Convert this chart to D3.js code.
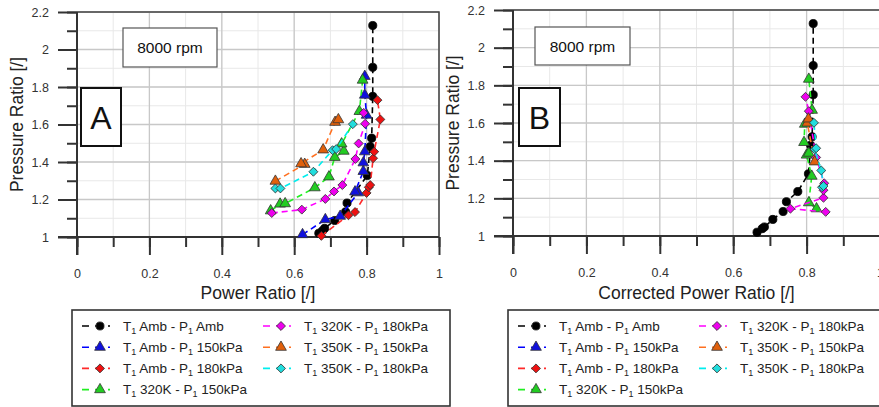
<!DOCTYPE html>
<html lang="en">
<head>
<meta charset="UTF-8">
<title>Pressure ratio vs power ratio, 8000 rpm</title>
<script src="https://d3js.org/d3.v7.min.js"></script>
<style>
  body { margin: 0; background: #fff; }
  svg { font-family: "Liberation Sans", Arial, sans-serif; }
</style>
</head>
<body>
<svg id="chart"></svg>
<script>
const width = 879, height = 407;

// ticks
const xTicks = [0, 0.2, 0.4, 0.6, 0.8, 1];
const yTicks = [1, 1.2, 1.4, 1.6, 1.8, 2, 2.2];
const xMinor = d3.range(0, 1.01, 0.1);
const yMinor = d3.range(1, 2.21, 0.1);

// legend text
const tempLabels  = ["Amb", "Amb", "Amb", "320K", "320K", "350K", "350K"];
const pressLabels = ["Amb", "150kPa", "180kPa", "150kPa", "180kPa", "150kPa", "180kPa"];

// panel A: power ratio / pressure ratio
const ampAmbA  = [[0.668,1.02],[0.678,1.033],[0.684,1.046],[0.712,1.088],[0.742,1.134],[0.746,1.181],[0.802,1.328],[0.81,1.482],[0.814,1.527],[0.817,1.75],[0.817,1.905],[0.817,2.128]];
const amb150A  = [[0.623,1.013],[0.686,1.093],[0.727,1.111],[0.768,1.241],[0.777,1.236],[0.791,1.35],[0.791,1.396],[0.795,1.455],[0.8,1.65],[0.795,1.757],[0.795,1.857]];
const amb180A  = [[0.675,1.006],[0.75,1.116],[0.768,1.133],[0.8,1.235],[0.806,1.265],[0.81,1.277],[0.818,1.42],[0.821,1.455],[0.838,1.627],[0.83,1.73]];
const k320p150A = [[0.535,1.14],[0.561,1.176],[0.575,1.178],[0.657,1.263],[0.696,1.321],[0.712,1.425],[0.737,1.458],[0.731,1.497],[0.78,1.67],[0.789,1.837]];
const k320p180A = [[0.538,1.128],[0.621,1.146],[0.686,1.203],[0.71,1.243],[0.733,1.277],[0.769,1.416],[0.778,1.499],[0.796,1.604],[0.792,1.662]];
const k350p150A = [[0.548,1.298],[0.619,1.391],[0.629,1.388],[0.68,1.465],[0.713,1.612],[0.722,1.626]];
const k350p180A = [[0.548,1.259],[0.562,1.259],[0.653,1.348],[0.706,1.463],[0.716,1.469],[0.762,1.602]];

// panel B: corrected power ratio / pressure ratio
const ampAmbB  = [[0.665,1.02],[0.679,1.039],[0.685,1.048],[0.708,1.088],[0.736,1.13],[0.745,1.182],[0.776,1.236],[0.805,1.33],[0.811,1.482],[0.815,1.527],[0.818,1.75],[0.818,1.905],[0.818,2.128]];
const amb150B  = [];
const amb180B  = [];
const k320p150B = [[0.827,1.145],[0.806,1.177],[0.814,1.318],[0.8,1.43],[0.806,1.44],[0.793,1.497],[0.795,1.594],[0.815,1.668],[0.806,1.833]];
const k320p180B = [[0.852,1.128],[0.756,1.145],[0.846,1.203],[0.846,1.243],[0.848,1.28],[0.826,1.417],[0.806,1.663],[0.797,1.739]];
const k350p150B = [[0.822,1.394],[0.802,1.6],[0.805,1.622]];
const k350p180B = [[0.842,1.259],[0.846,1.265],[0.84,1.348],[0.822,1.46],[0.826,1.466],[0.82,1.601]];

const lineColors = ["#000000", "#0000ff", "#ff2a2a", "#22ee22", "#ff00ff", "#ff7020", "#00eeee"];
const fillColors = ["#000000", "#1010dd", "#ee1111", "#22cc22", "#ee00ee", "#e0600c", "#22dddd"];
const shapes = ["circle", "triangle", "diamond", "triangle", "diamond", "triangle", "diamond"];

const panels = [
  { x0: 77, x1: 439, y0: 237, y1: 12, label: "A", xTitle: "Power Ratio [/]",
    series: [ampAmbA, amb150A, amb180A, k320p150A, k320p180A, k350p150A, k350p180A],
    rpmBox: [123, 28, 94, 39], letterBox: [81, 88, 40, 58], legendX: 72 },
  { x0: 513, x1: 880, y0: 236, y1: 10, label: "B", xTitle: "Corrected Power Ratio [/]",
    series: [ampAmbB, amb150B, amb180B, k320p150B, k320p180B, k350p150B, k350p180B],
    rpmBox: [535, 27, 95, 38], letterBox: [519, 88, 41, 58], legendX: 508 }
];

const svg = d3.select("#chart")
  .attr("width", width)
  .attr("height", height)
  .attr("viewBox", [0, 0, width, height]);

function marker(shape) {
  if (shape === "circle") return d3.symbol(d3.symbolCircle, 52)();
  if (shape === "triangle") return d3.symbol(d3.symbolTriangle, 50)();
  return d3.symbol(d3.symbolSquare, 40)();
}
const fmt = d => String(+d.toFixed(1));

panels.forEach(p => {
  const x = d3.scaleLinear().domain([0, 1]).range([p.x0, p.x1]);
  const y = d3.scaleLinear().domain([1, 2.2]).range([p.y0, p.y1]);
  const g = svg.append("g");

  // minor grid
  g.append("g").selectAll("line").data(xMinor).join("line")
    .attr("x1", d => x(d)).attr("x2", d => x(d)).attr("y1", p.y0).attr("y2", p.y1)
    .attr("stroke", "#e8e8e8");
  g.append("g").selectAll("line").data(yMinor).join("line")
    .attr("y1", d => y(d)).attr("y2", d => y(d)).attr("x1", p.x0).attr("x2", p.x1)
    .attr("stroke", "#e8e8e8");
  // major grid
  g.append("g").selectAll("line").data(xTicks).join("line")
    .attr("x1", d => x(d)).attr("x2", d => x(d)).attr("y1", p.y0).attr("y2", p.y1)
    .attr("stroke", "#c8c8c8").attr("stroke-width", 1.3);
  g.append("g").selectAll("line").data(yTicks).join("line")
    .attr("y1", d => y(d)).attr("y2", d => y(d)).attr("x1", p.x0).attr("x2", p.x1)
    .attr("stroke", "#c8c8c8").attr("stroke-width", 1.3);

  // top + right frame
  g.append("path")
    .attr("d", `M${p.x0},${p.y1}H${p.x1}V${p.y0}`)
    .attr("fill", "none").attr("stroke", "#444").attr("stroke-width", 1.5);

  // axes
  g.append("g").attr("transform", `translate(0,${p.y0})`)
    .call(d3.axisBottom(x).tickValues(xTicks).tickSize(18).tickPadding(14).tickFormat(fmt));
  g.append("g").attr("transform", `translate(0,${p.y0})`)
    .call(d3.axisBottom(x).tickValues(xMinor).tickSize(10).tickFormat(""));
  g.append("g").attr("transform", `translate(${p.x0},0)`)
    .call(d3.axisLeft(y).tickValues(yTicks).tickSize(19).tickPadding(9).tickFormat(fmt));
  g.append("g").attr("transform", `translate(${p.x0},0)`)
    .call(d3.axisLeft(y).tickValues(yMinor).tickSize(10).tickFormat(""));
  g.selectAll(".domain").remove();
  g.selectAll(".tick line").attr("stroke", "#333").attr("stroke-width", 2);
  g.selectAll(".tick text").attr("fill", "#333").attr("font-size", 12.5);
  g.append("line").attr("x1", p.x0 - 19).attr("x2", p.x1).attr("y1", p.y0).attr("y2", p.y0)
    .attr("stroke", "#333").attr("stroke-width", 2);
  g.append("line").attr("x1", p.x0).attr("x2", p.x0).attr("y1", p.y1).attr("y2", p.y0 + 18)
    .attr("stroke", "#333").attr("stroke-width", 2);

  // axis titles
  g.append("text").attr("x", (p.x0 + p.x1) / 2).attr("y", 299)
    .attr("text-anchor", "middle").attr("font-size", 17.5).attr("fill", "#222").text(p.xTitle);
  g.append("text")
    .attr("transform", `translate(${p.x0 - 54},${(p.y0 + p.y1) / 2}) rotate(-90)`)
    .attr("text-anchor", "middle").attr("font-size", 17.5).attr("fill", "#222")
    .text("Pressure Ratio [/]");

  // data
  const line = d3.line().x(d => x(d[0])).y(d => y(d[1]));
  p.series.forEach((data, i) => {
    const pts = data.slice().sort((a, b) => a[1] - b[1]);
    g.append("path").datum(pts).attr("d", line)
      .attr("fill", "none").attr("stroke", lineColors[i])
      .attr("stroke-width", 1.6).attr("stroke-dasharray", "6,4");
    g.append("g").selectAll("path").data(pts).join("path")
      .attr("d", marker(shapes[i]))
      .attr("transform", d => `translate(${x(d[0])},${y(d[1])})` + (shapes[i] === "diamond" ? " rotate(45)" : ""))
      .attr("fill", fillColors[i]).attr("stroke", i === 0 ? "#000" : "#333").attr("stroke-width", 0.8);
  });

  // annotation boxes
  const [rx, ry, rw, rh] = p.rpmBox;
  g.append("rect").attr("x", rx).attr("y", ry).attr("width", rw).attr("height", rh)
    .attr("fill", "#fff").attr("stroke", "#555").attr("stroke-width", 1.2);
  g.append("text").attr("x", rx + rw / 2).attr("y", ry + rh / 2 + 5.5)
    .attr("text-anchor", "middle").attr("font-size", 15.5).attr("fill", "#111").text("8000 rpm");
  const [lx, ly, lw, lh] = p.letterBox;
  g.append("rect").attr("x", lx).attr("y", ly).attr("width", lw).attr("height", lh)
    .attr("fill", "#fff").attr("stroke", "#111").attr("stroke-width", 2);
  g.append("text").attr("x", lx + lw / 2).attr("y", ly + lh / 2 + 11.5)
    .attr("text-anchor", "middle").attr("font-size", 32).attr("fill", "#111").text(p.label);

  // legend
  const lg = svg.append("g").attr("transform", `translate(${p.legendX},310)`);
  lg.append("rect").attr("x", 0).attr("y", 0).attr("width", 378).attr("height", 96)
    .attr("fill", "#fff").attr("stroke", "#333").attr("stroke-width", 1.6);
  tempLabels.forEach((t, i) => {
    const col = i < 4 ? 0 : 1;
    const row = i < 4 ? i : i - 4;
    const cx = col === 0 ? 10 : 191;
    const cy = 16 + row * 21.2;
    const item = lg.append("g").attr("transform", `translate(${cx},${cy})`);
    item.append("line").attr("x1", 0).attr("x2", 28).attr("y1", 0).attr("y2", 0)
      .attr("stroke", lineColors[i]).attr("stroke-width", 1.6).attr("stroke-dasharray", "7,6");
    item.append("path").attr("d", marker(shapes[i]))
      .attr("transform", `translate(18,0)` + (shapes[i] === "diamond" ? " rotate(45)" : ""))
      .attr("fill", fillColors[i]).attr("stroke", "#333").attr("stroke-width", 0.8);
    const tx = item.append("text").attr("x", 41).attr("y", 4.5)
      .attr("font-size", 13.5).attr("fill", "#222");
    tx.append("tspan").text("T");
    tx.append("tspan").attr("font-size", 9).attr("dy", 3).text("1");
    tx.append("tspan").attr("dy", -3).text(` ${t} - P`);
    tx.append("tspan").attr("font-size", 9).attr("dy", 3).text("1");
    tx.append("tspan").attr("dy", -3).text(` ${pressLabels[i]}`);
  });
});
</script>
</body>
</html>
